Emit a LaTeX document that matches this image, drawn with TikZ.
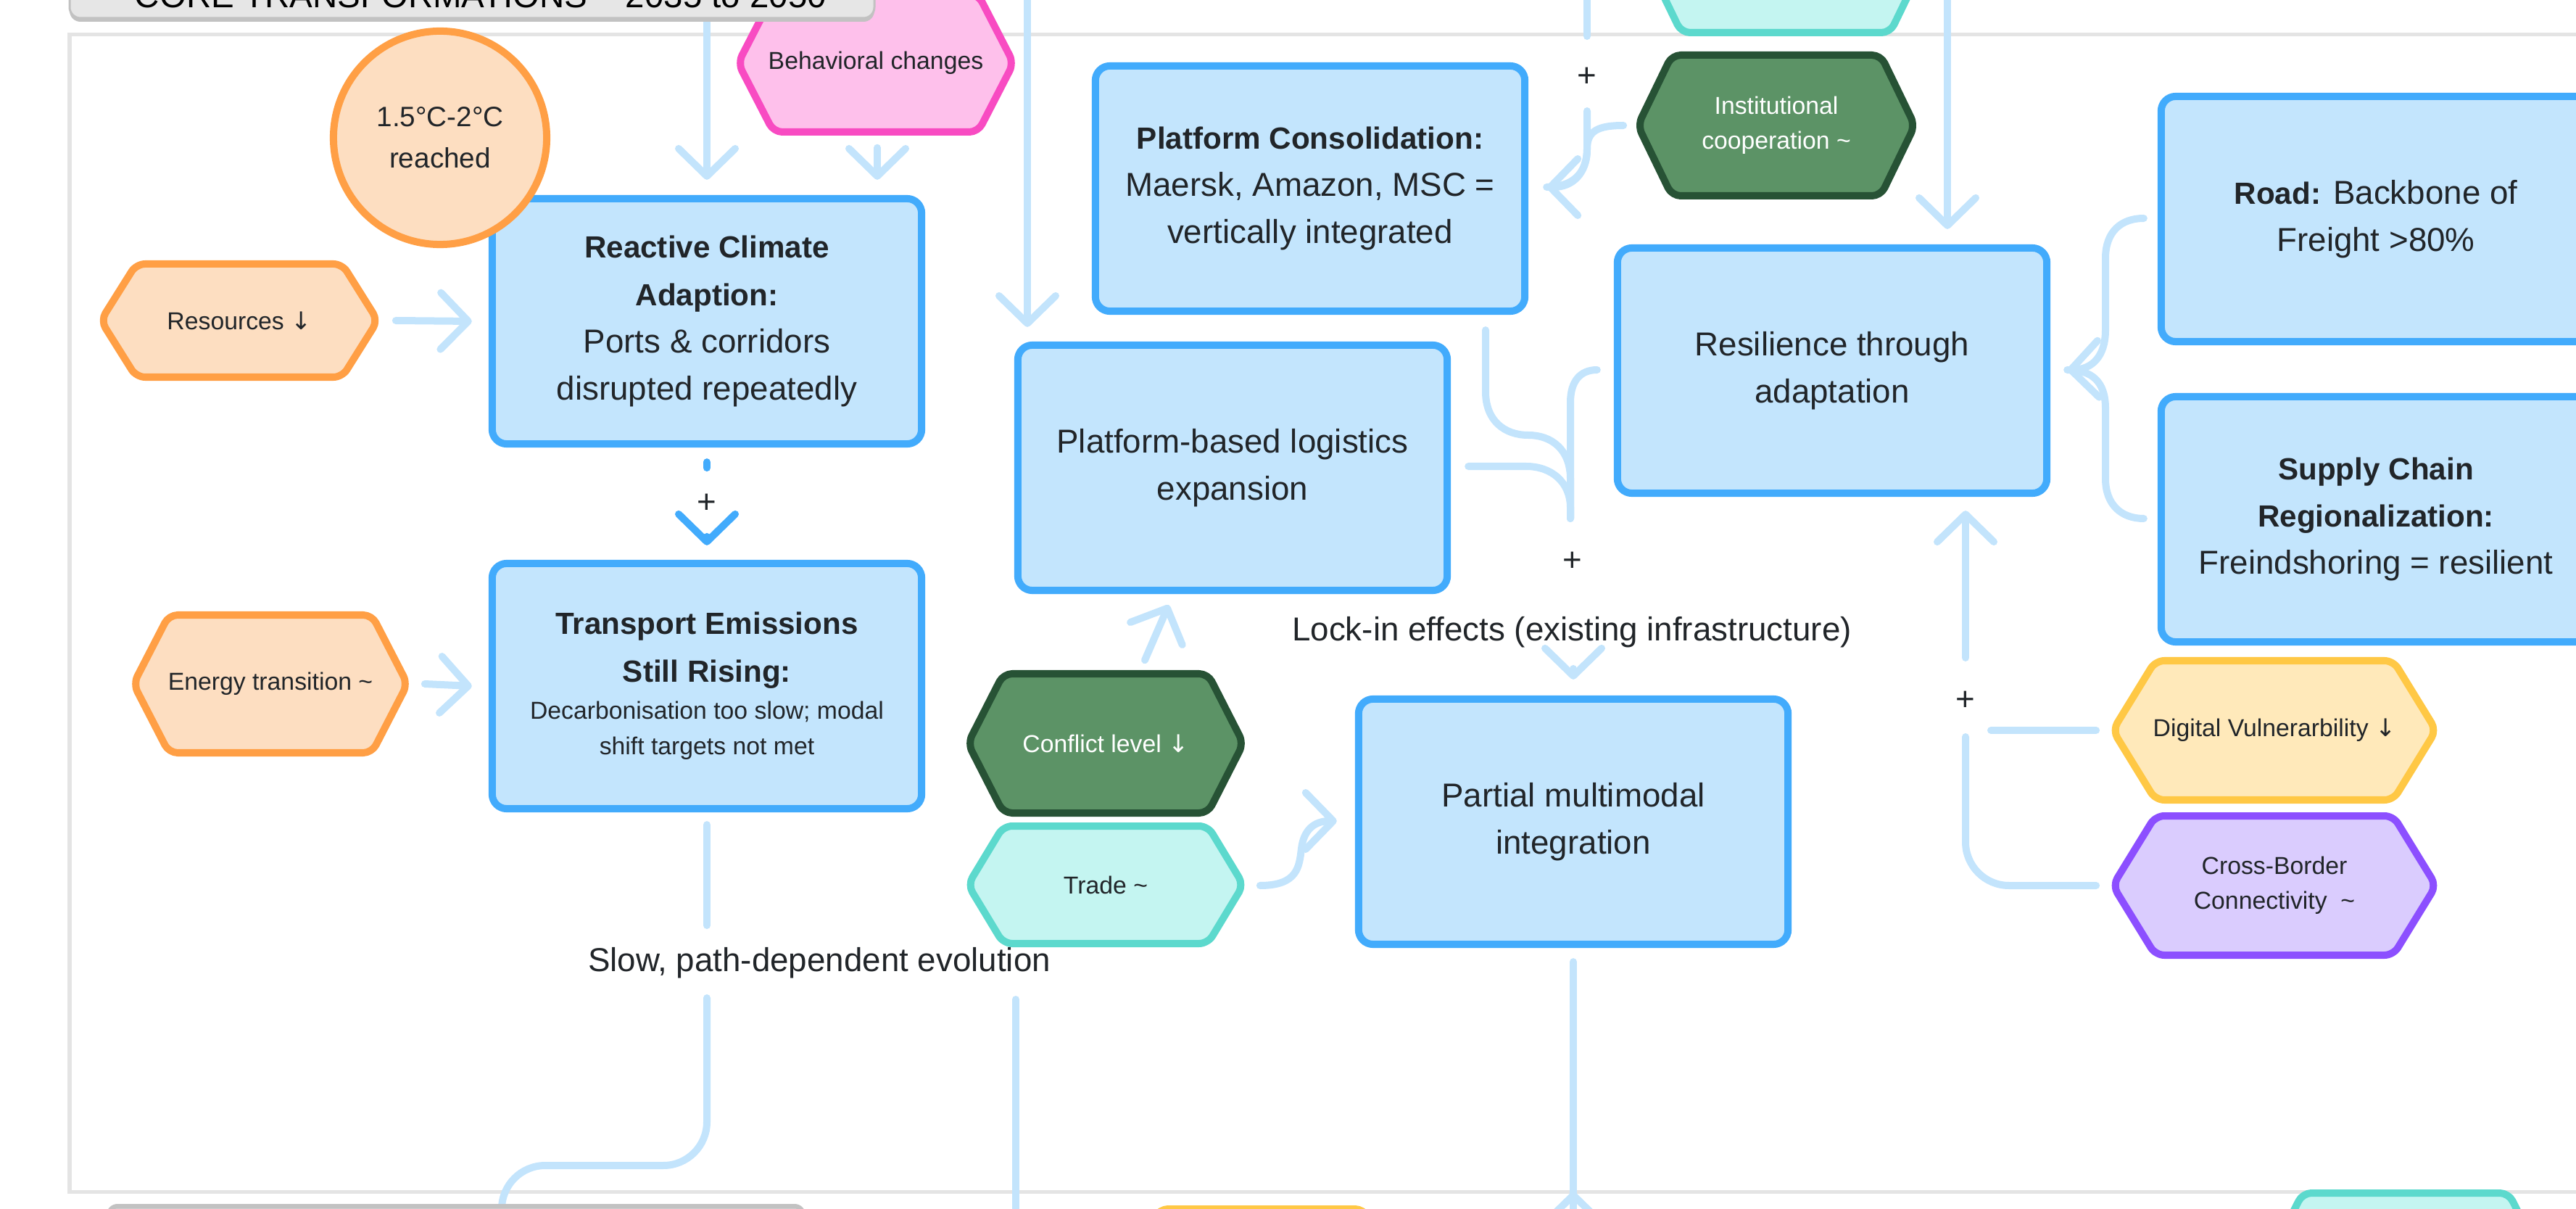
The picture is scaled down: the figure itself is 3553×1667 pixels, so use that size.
\documentclass[tikz,border=0pt]{standalone}
\usepackage{fontspec}
\setmainfont{Liberation Sans}
\newfontfamily\symfont{DejaVu Sans}
\usetikzlibrary{arrows.meta,calc}

\definecolor{boxfill}{HTML}{C3E5FD}
\definecolor{boxline}{HTML}{42ABFC}
\definecolor{link}{HTML}{C3E4FC}
\definecolor{ink}{HTML}{212529}
\definecolor{orfill}{HTML}{FDDEC1}
\definecolor{orline}{HTML}{FF9F45}
\definecolor{pkfill}{HTML}{FEC0EB}
\definecolor{pkline}{HTML}{F84BC2}
\definecolor{gnfill}{HTML}{5C9366}
\definecolor{gnline}{HTML}{275235}
\definecolor{tlfill}{HTML}{C4F5F1}
\definecolor{tlline}{HTML}{5CD9CD}
\definecolor{ylfill}{HTML}{FFE9BA}
\definecolor{ylline}{HTML}{FFC845}
\definecolor{ppfill}{HTML}{DACCFE}
\definecolor{ppline}{HTML}{8C4FFF}
\definecolor{framecol}{HTML}{E4E4E4}
\definecolor{titlefill}{HTML}{E6E6E6}
\definecolor{titleedge}{HTML}{C2C2C2}

\newcommand\mainsize{\fontsize{13}{18.5}\selectfont}
\newcommand\boldsize{\fontsize{12}{18.5}\selectfont\bfseries}
\newcommand\smallsize{\fontsize{9.6}{13.7}\selectfont}
\newcommand\dnarrow{{\symfont ↓}}

% rounded hexagon drawn behind a named text node of the same size
% #1 path style, #2 node style, #3 name, #4 x, #5 y,
% #6 half width, #7 half height, #8 corner inset, #9 text
\newcommand\hexnode[9]{%
  \path[hexline,#1] (#4-#6,#5) -- (#4-#6+#8,#5-#7) -- (#4+#6-#8,#5-#7)
     -- (#4+#6,#5) -- (#4+#6-#8,#5+#7) -- (#4-#6+#8,#5+#7) -- cycle;
  \node[hextext,minimum width=#6*0.02cm,minimum height=#7*0.02cm,#2] (#3) at (#4,#5) {#9};}

\tikzset{
  box/.style={draw=boxline, fill=boxfill, line width=0.1cm, rounded corners=0.2cm,
    minimum width=5.92cm, minimum height=3.38cm, align=center, text=ink,
    font=\mainsize, inner sep=0pt},
  hexline/.style={line width=0.1cm, rounded corners=0.12cm, line join=round},
  hextext/.style={align=center, text=ink, font=\smallsize, inner sep=0pt},
  conn/.style={draw=link, line width=0.1cm, line cap=round, line join=round},
  tipend/.style={-{Straight Barb[length=0.38cm,width=0.78cm,round]}},
  lbl/.style={text=ink, font=\mainsize, inner sep=0pt},
}

\begin{document}
\begin{tikzpicture}[x=0.01cm,y=-0.01cm]
\useasboundingbox (0,0) rectangle (3553,1667);
\clip (0,0) rectangle (3553,1667);

% group frame
\draw[framecol, line width=0.05cm] (96,48) rectangle (3700,1643);

% ---------- boxes
\node[box] (reactive) at (975,443) {{\boldsize Reactive Climate}\\{\boldsize Adaption:}\\Ports \& corridors\\disrupted repeatedly};
\node[box] (transport) at (975,946) {{\boldsize Transport Emissions}\\{\boldsize Still Rising:}\\[-3.8pt]{\smallsize Decarbonisation too slow; modal}\\[-4.6pt]{\smallsize shift targets not met}};
\node[box] (platcons) at (1807,260) {{\boldsize Platform Consolidation:}\\Maersk, Amazon, MSC =\\vertically integrated};
\node[box] (platlog) at (1700,645) {Platform-based logistics\\expansion};
\node[box] (resil) at (2527,511) {Resilience through\\adaptation};
\node[box] (road) at (3277,302) {{\boldsize Road:} Backbone of\\Freight >80\%};
\node[box] (supply) at (3277,716) {{\boldsize Supply Chain}\\{\boldsize Regionalization:}\\Freindshoring = resilient};
\node[box] (partial) at (2170,1133) {Partial multimodal\\integration};

% ---------- hexagons
\hexnode{draw=orline,fill=orfill}{}{res}{330}{442}{191}{78}{49}{Resources \dnarrow}
\hexnode{draw=orline,fill=orfill}{}{energy}{373}{943}{189}{95}{49}{Energy transition \textasciitilde}
\hexnode{draw=pkline,fill=pkfill}{}{behav}{1208}{87}{190}{95}{49}{Behavioral changes}
\hexnode{draw=tlline,fill=tlfill}{}{tealtop}{2463}{-52}{191}{97}{47}{}
\hexnode{draw=gnline,fill=gnfill}{text=white}{inst}{2450}{173}{191}{97}{47}{Institutional\\cooperation \textasciitilde}
\hexnode{draw=gnline,fill=gnfill}{text=white}{conflict}{1525}{1025}{190}{96}{49}{Conflict level \dnarrow}
\hexnode{draw=tlline,fill=tlfill}{}{trade}{1525}{1220}{190}{81}{49}{Trade \textasciitilde}
\hexnode{draw=ylline,fill=ylfill}{}{digital}{3137}{1007}{223}{96}{59}{Digital Vulnerarbility \dnarrow}
\hexnode{draw=ppline,fill=ppfill}{}{cross}{3137}{1221}{223}{96}{59}{Cross-Border\\Connectivity~~\textasciitilde}
\hexnode{draw=ylline,fill=ylfill}{}{ylbottom}{1740}{1764}{190}{97}{49}{}
\hexnode{draw=tlline,fill=tlfill}{}{tlbottom}{3318}{1742}{191}{97}{49}{}

% temperature circle
\node[circle, draw=orline, fill=orfill, line width=0.1cm, minimum size=2.94cm,
  align=center, text=ink, font=\fontsize{11}{16.2}\selectfont, inner sep=0pt]
  (temp) at (607,190) {1.5°C-2°C\\reached};

% ---------- connectors
\coordinate (topA) at (975,-20);
\coordinate (topB) at (1417,-20);
\coordinate (topC) at (2189,-20);
\coordinate (topD) at (2686,-20);

\draw[conn,tipend] (topA) -- ($(reactive.north)+(0,-21)$);
\draw[conn,tipend] ($(behav.south)+(2,21)$) -- ($(reactive.north)+(235,-21)$);
\draw[conn,tipend] ($(res.east)+(24,0)$) -- ($(reactive.west)+(-23,0)$);
\draw[conn,tipend] ($(energy.east)+(23,0)$) -- ($(transport.west)+(-23,0)$);
\draw[conn,tipend] (topB) -- ($(platlog.north)+(-283,-20)$);
\draw[conn,tipend] (topD) -- ($(resil.north)+(159,-21)$);

% reactive -> transport
\draw[conn,draw=boxline] ($(reactive.south)+(0,20)$) -- ++(0,8);
\node[lbl] (plusA) at ($(reactive.south)!0.5!(transport.north)$) {+};
\draw[conn,draw=boxline,tipend] ($(transport.north)+(0,-32)$) -- ($(transport.north)+(0,-20)$);

% institutional cooperation -> platform consolidation
\draw[conn] (topC) -- (2189,50);
\node[lbl] (plusB) at (2189,106) {+};
\draw[conn,tipend] (2189,153) -- (2189,205) .. controls (2189,240) and (2168,258) .. ($(platcons.east)+(25,-2)$);
\draw[conn] ($(inst.west)+(-19,0)$) .. controls (2205,173) and (2189,180) .. (2189,205)
  .. controls (2189,240) and (2168,258) .. ($(platcons.east)+(25,-2)$);

% road / supply chain -> resilience
\draw[conn,tipend] ($(road.west)+(-19,-1)$) .. controls (2925,301) and (2904,320) .. (2904,356)
  -- (2904,455) .. controls (2904,492) and (2885,509) .. ($(resil.east)+(23,-1)$);
\draw[conn] ($(supply.west)+(-19,-1)$) .. controls (2925,715) and (2904,695) .. (2904,660)
  -- (2904,563) .. controls (2904,526) and (2885,510) .. ($(resil.east)+(23,-1)$);

% lock-in effects -> partial multimodal integration
\draw[conn] ($(platcons.south)+(242,21)$) -- (2049,540) .. controls (2049,580) and (2075,600) .. (2108,600)
  .. controls (2140,600) and (2166,620) .. (2166,660) -- (2166,715);
\draw[conn] ($(platlog.east)+(24,-2)$) -- (2105,643) .. controls (2140,643) and (2166,665) .. (2166,700) -- (2166,715);
\draw[conn] ($(resil.west)+(-23,-1)$) .. controls (2180,510) and (2166,525) .. (2166,555) -- (2166,715);
\node[lbl] (plusC) at (2169,774) {+};
\node[lbl] (lockin) at (2168,872) {Lock-in effects (existing infrastructure)};
\draw[conn,tipend] ($(partial.north)+(0,-37)$) -- ($(partial.north)+(0,-22)$);

% conflict and trade
\draw[conn,tipend] ($(conflict.north)+(54,-18)$) -- ($(platlog.south)+(-88,15)$);
\draw[conn,tipend] ($(trade.east)+(22,1)$) .. controls (1790,1221) and (1792,1195) .. (1795,1170)
  .. controls (1798,1145) and (1812,1132) .. ($(partial.west)+(-25,-1)$);

% slow, path-dependent evolution
\draw[conn] ($(transport.south)+(0,17)$) -- (975,1276);
\node[lbl] (slow) at (1130,1328) {Slow, path-dependent evolution};
\coordinate (downA) at (692,1720);
\coordinate (downB) at (1401,1720);
\draw[conn,rounded corners=0.6cm] (975,1376) -- (975,1607) -- (692,1607) -- (downA);
\draw[conn] (1401,1378) -- (downB);

% partial integration downwards
\coordinate (downC) at (2170,1720);
\draw[conn] ($(partial.south)+(0,19)$) -- (downC);
\draw[conn,tipend] (downC) -- (2170,1643);

% digital vulnerability / cross-border -> resilience
\draw[conn] ($(digital.west)+(-22,0)$) -- (2746,1007);
\draw[conn,rounded corners=0.6cm] ($(cross.west)+(-22,0)$) -- (2711,1221) -- (2711,1016);
\node[lbl] (plusD) at (2711,966) {+};
\draw[conn,tipend] (2711,907) -- ($(resil.south)+(184,19)$);

% ---------- group title boxes
\fill[titleedge, rounded corners=0.15cm] (96,-80) rectangle (1206,30);
\filldraw[fill=titlefill, draw=titleedge, line width=0.03cm, rounded corners=0.15cm] (96,-80) rectangle (1206,25);
\node[anchor=base, text=black, font=\fontsize{13.5}{16}\selectfont, inner sep=0pt] (title) at (663,11)
  {CORE TRANSFORMATIONS – 2035 to 2050};
\fill[titleedge, rounded corners=0.15cm] (147,1660) rectangle (1111,1800);
\filldraw[fill=titlefill, draw=titleedge, line width=0.03cm, rounded corners=0.15cm] (147,1665) rectangle (1111,1800);
\end{tikzpicture}
\end{document}
